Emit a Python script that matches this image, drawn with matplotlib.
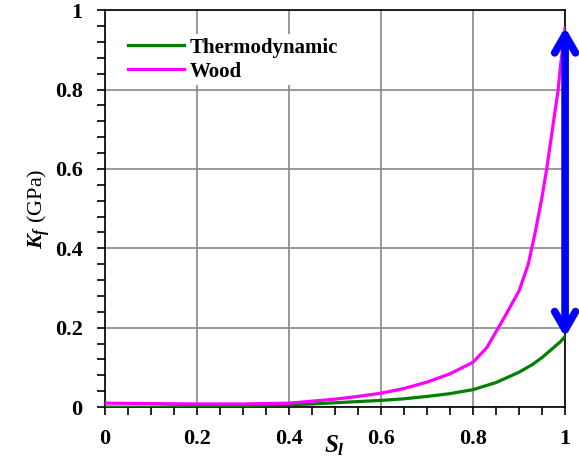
import matplotlib
matplotlib.use('Agg')
import matplotlib.pyplot as plt

plt.rcParams['font.family'] = 'Liberation Serif'
plt.rcParams['font.weight'] = 'bold'
plt.rcParams['mathtext.fontset'] = 'custom'
plt.rcParams['mathtext.it'] = 'Liberation Serif:italic:bold'
plt.rcParams['mathtext.rm'] = 'Liberation Serif:bold'

# Data
thermo_s = [0, 0.1, 0.2, 0.3, 0.4, 0.45, 0.5, 0.55, 0.6, 0.65, 0.7, 0.75,
            0.8, 0.85, 0.9, 0.93, 0.95, 0.97, 0.99, 1.0]
thermo_k = [0.0, 0.0, 0.002, 0.004, 0.006, 0.008, 0.011, 0.014, 0.017, 0.021,
            0.027, 0.034, 0.044, 0.062, 0.088, 0.108, 0.125, 0.145, 0.165, 0.178]

wood_s = [0, 0.1, 0.2, 0.3, 0.4, 0.45, 0.5, 0.55, 0.6, 0.65, 0.7, 0.75, 0.8,
          0.83, 0.85, 0.87, 0.9, 0.92, 0.935, 0.95, 0.96, 0.97, 0.98, 0.985,
          0.99, 1.0]
wood_k = [0.01, 0.009, 0.008, 0.008, 0.01, 0.015, 0.02, 0.027, 0.035, 0.047,
          0.063, 0.084, 0.113, 0.15, 0.19, 0.23, 0.293, 0.36, 0.44, 0.53, 0.6,
          0.68, 0.76, 0.8, 0.86, 0.955]

ticks = [0, 0.2, 0.4, 0.6, 0.8, 1]
tick_labels = ['0', '0.2', '0.4', '0.6', '0.8', '1']

arrow_s = 1.0
arrow_low = 0.176
arrow_high = 0.957

fig = plt.figure(figsize=(5.79, 4.59), dpi=100)
ax = fig.add_axes([0.181, 0.113, 0.795, 0.865])

ax.plot(thermo_s, thermo_k, color='#008000', lw=2.3, label='Thermodynamic', zorder=3)
ax.plot(wood_s, wood_k, color='#ff00ff', lw=2.3, label='Wood', zorder=3)

# double-headed blue arrow showing the gap at S_l = 1
ax.annotate('', xy=(arrow_s, arrow_high), xytext=(arrow_s, arrow_low),
            arrowprops=dict(arrowstyle='<->,head_length=1.3,head_width=0.75',
                            color='#0000ff', lw=5.5, shrinkA=0, shrinkB=0),
            zorder=4, annotation_clip=False)

ax.set_xlim(0, 1)
ax.set_ylim(0, 1)
ax.set_xticks(ticks, tick_labels)
ax.set_yticks(ticks, tick_labels)
ax.set_xticks([i * 0.05 for i in range(21)], minor=True)
ax.set_yticks([i * 0.04 for i in range(26)], minor=True)
ax.tick_params(which='both', direction='out', width=1.2, length=6, labelsize=16)
ax.tick_params(axis='x', pad=10)
ax.tick_params(axis='y', pad=10)

ax.grid(True, which='major', color='#888888', lw=1.2)
for sp in ax.spines.values():
    sp.set_color('black')
    sp.set_linewidth(1.2)

fig.text(0.578, 0.002, r'$S_l$', fontsize=18, ha='center', va='bottom')
ax.set_ylabel(r'$K_f$ (GPa)', fontsize=16, fontweight='normal', labelpad=2)

leg = ax.legend(loc='upper left', bbox_to_anchor=(0.02, 0.965), frameon=True,
                fontsize=15, handlelength=2.7, handletextpad=0.3,
                borderpad=0.15, labelspacing=0.2)
leg.get_frame().set_edgecolor('none')
leg.get_frame().set_facecolor('white')
leg.get_frame().set_alpha(1)

fig.savefig('out.png', dpi=100)
